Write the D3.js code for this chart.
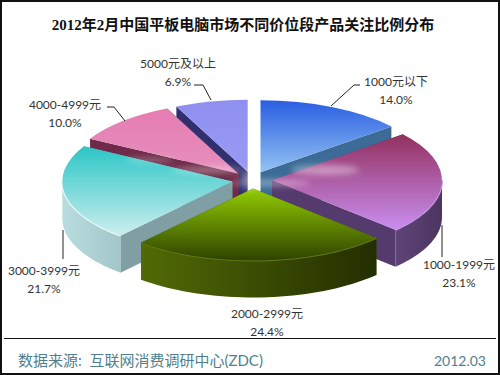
<!DOCTYPE html>
<html>
<head>
<meta charset="utf-8">
<script src="https://cdn.jsdelivr.net/npm/d3@7"></script>
<style>
  html, body { margin: 0; padding: 0; background: #fff; }
  svg { display: block; }
  text { font-family: Lato, "Noto Sans CJK SC", sans-serif; }
  .title { font-family: "Liberation Serif", "Noto Sans CJK SC", serif; }
</style>
</head>
<body>
<div id="chart"></div>
<script>
// chart values
const categories = ['1000元以下', '1000-1999元', '2000-2999元', '3000-3999元', '4000-4999元', '5000元及以上'];
const shares = [14.0, 23.1, 24.4, 21.7, 10.0, 6.9];
const shareLabels = ['14.0%', '23.1%', '24.4%', '21.7%', '10.0%', '6.9%'];

const titleText = '2012年2月中国平板电脑市场不同价位段产品关注比例分布';
const sourceText = '数据来源:  互联网消费调研中心(ZDC)';
const dateText = '2012.03';

// slice styling: top gradient from/to, side gradient from/to, radial wall, rim
const topFrom = ['#2a5ee2', '#93305f', '#93cc00', '#2cc6c6', '#e67db2', '#8f8ff0'];
const topTo = ['#93c3f2', '#c98ef0', '#2f4200', '#cdeeee', '#e58fbd', '#9a9af5'];
const sideFrom = ['#3a6a98', '#5f4478', '#526a06', '#b9dcde', '#6e2a48', '#30306e'];
const sideTo = ['#3a6a98', '#4c3560', '#232e00', '#a3c6ca', '#6e2a48', '#30306e'];
const wallFill = ['#3b6b96', '#553a6e', '#3d5000', '#7f9fa4', '#6e2a48', '#30306e'];
const rimFill = ['#8fc0f0', '#c89ae8', '#5f7a12', '#eefafa', '#f0a8cc', '#b0b0f8'];

// label centre and leader polyline per slice
const labelPos = [[396, 81], [459, 264], [267, 313], [44, 270], [65, 104], [178, 63]];
const leaderPts = [
  [[331, 106], [354, 85], [360, 85]],
  [[442, 225], [442, 257]],
  [],
  [[63, 230], [63, 259]],
  [[107, 107], [114, 107], [125, 121]],
  [[194, 85], [203, 85], [211, 100]]
];

const width = 500, height = 375;
const cx = 252, cy = 180;
const rx = 170, ry = 72, depth = 37, explode = 20;
const yScale = ry / rx;

const svg = d3.select('#chart').append('svg')
  .attr('width', width)
  .attr('height', height);
const defs = svg.append('defs');

// background and frame
svg.append('rect')
  .attr('x', 1).attr('y', 1)
  .attr('width', width - 2).attr('height', height - 2)
  .attr('fill', '#fff').attr('stroke', '#111').attr('stroke-width', 2);

const pie = d3.pie().sort(null).value(d => d);
const arcs = pie(shares);

// projected point on the tilted pie for a clockwise-from-top angle
const project = (a, r) => [r * Math.sin(a), -r * Math.cos(a) * yScale];
const line = d3.line();

arcs.forEach((d, i) => {
  const t = defs.append('linearGradient').attr('id', 'top' + i)
    .attr('x1', 0).attr('y1', 0).attr('x2', 0).attr('y2', 1);
  t.append('stop').attr('offset', '0%').attr('stop-color', topFrom[i]);
  t.append('stop').attr('offset', '100%').attr('stop-color', topTo[i]);
  const s = defs.append('linearGradient').attr('id', 'side' + i)
    .attr('x1', 0).attr('y1', 0).attr('x2', 1).attr('y2', 0);
  s.append('stop').attr('offset', '0%').attr('stop-color', sideFrom[i]);
  s.append('stop').attr('offset', '100%').attr('stop-color', sideTo[i]);
});

const blur = defs.append('filter').attr('id', 'smear')
  .attr('x', '-30%').attr('y', '-100%').attr('width', '160%').attr('height', '300%');
blur.append('feGaussianBlur').attr('stdDeviation', 3);
const soft = defs.append('filter').attr('id', 'soft');
soft.append('feGaussianBlur').attr('stdDeviation', 0.5);

const topArc = d3.arc().innerRadius(0).outerRadius(rx);

// painter's order, back slices first
const drawOrder = [5, 4, 0, 3, 1, 2];

drawOrder.forEach(i => {
  const d = arcs[i];
  const mid = (d.startAngle + d.endAngle) / 2;
  const [ox, oy] = project(mid, explode);
  const g = svg.append('g').attr('transform', `translate(${cx + ox},${cy + oy})`);

  // radial walls
  [d.startAngle, d.endAngle].forEach(a => {
    const [px, py] = project(a, rx);
    g.append('path')
      .attr('d', line([[0, 0], [px, py], [px, py + depth], [0, depth]]) + 'Z')
      .attr('fill', wallFill[i]);
  });

  // outer wall, only the part turned to the viewer
  const from = Math.max(d.startAngle, Math.PI / 2);
  const to = Math.min(d.endAngle, Math.PI * 1.5);
  if (to > from) {
    const steps = d3.range(0, 41).map(k => from + (to - from) * k / 40);
    const upper = steps.map(a => project(a, rx));
    const lower = upper.map(p => [p[0], p[1] + depth]).reverse();
    g.append('path')
      .attr('d', line(upper.concat(lower)) + 'Z')
      .attr('fill', `url(#side${i})`);
    g.append('path')
      .attr('d', line(upper))
      .attr('fill', 'none')
      .attr('stroke', rimFill[i])
      .attr('stroke-width', 2)
      .attr('filter', 'url(#soft)');
  }

  // top face
  g.append('path')
    .attr('d', topArc(d))
    .attr('transform', `scale(1,${yScale})`)
    .attr('fill', `url(#top${i})`);
});

// pale smear over the pie centre, as in the source picture
const smears = [[270, 183, 40, 3], [325, 170, 34, 5], [208, 170, 36, 3], [250, 180, 8, 10], [150, 160, 24, 2], [342, 170, 8, 4]];
svg.append('g').attr('filter', 'url(#smear)').attr('opacity', 0.4)
  .selectAll('ellipse').data(smears).join('ellipse')
  .attr('cx', d => d[0]).attr('cy', d => d[1])
  .attr('rx', d => d[2]).attr('ry', d => d[3])
  .attr('fill', '#fff');

// leaders
svg.append('g').selectAll('path').data(leaderPts).join('path')
  .attr('d', d => d.length ? line(d) : null)
  .attr('fill', 'none')
  .attr('stroke', '#222')
  .attr('stroke-width', 1);

// labels
const labels = svg.append('g').attr('text-anchor', 'middle').attr('fill', '#333').attr('font-size', 12);
categories.forEach((c, i) => {
  labels.append('text').attr('x', labelPos[i][0]).attr('y', labelPos[i][1] + 5).text(c);
  labels.append('text').attr('x', labelPos[i][0]).attr('y', labelPos[i][1] + 23).text(shareLabels[i]);
});

// title
svg.append('text')
  .attr('class', 'title')
  .attr('x', 243).attr('y', 30)
  .attr('text-anchor', 'middle')
  .attr('font-size', 15)
  .attr('font-weight', 'bold')
  .attr('fill', '#111')
  .text(titleText);

// footer
svg.append('line')
  .attr('x1', 4).attr('x2', 496)
  .attr('y1', 338.5).attr('y2', 338.5)
  .attr('stroke', '#111');
svg.append('text')
  .attr('x', 18).attr('y', 366)
  .attr('font-size', 15)
  .attr('fill', '#4f7f8c')
  .style('white-space', 'pre')
  .text(sourceText);
svg.append('text')
  .attr('x', 486).attr('y', 366)
  .attr('text-anchor', 'end')
  .attr('font-size', 14)
  .attr('fill', '#4f7f8c')
  .text(dateText);
</script>
</body>
</html>
